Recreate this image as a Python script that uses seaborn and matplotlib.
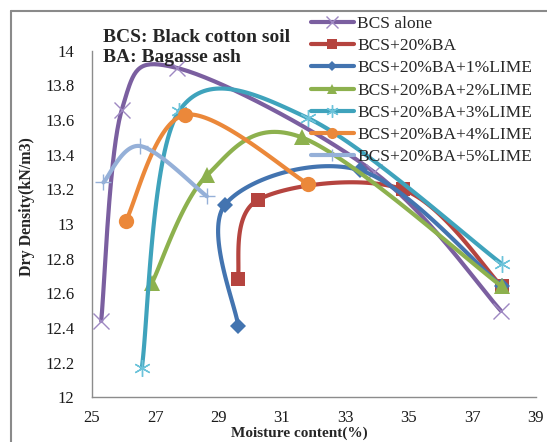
import numpy as np
import pandas as pd
import matplotlib
matplotlib.use("Agg")
import matplotlib.pyplot as plt
from matplotlib.lines import Line2D
import seaborn as sns

# ---- data ----
series_names = ["BCS alone", "BCS+20%BA", "BCS+20%BA+1%LIME", "BCS+20%BA+2%LIME",
                "BCS+20%BA+3%LIME", "BCS+20%BA+4%LIME", "BCS+20%BA+5%LIME"]
bcs_x = [25.3, 25.95, 27.7, 33.9, 37.9]
bcs_y = [12.44, 13.66, 13.90, 13.30, 12.50]
ba_x = [29.6, 30.25, 34.8, 37.93]
ba_y = [12.68, 13.14, 13.20, 12.64]
l1_x = [29.62, 29.2, 33.46, 37.93]
l1_y = [12.41, 13.11, 13.31, 12.64]
l2_x = [26.9, 28.63, 31.62, 37.93]
l2_y = [12.66, 13.28, 13.50, 12.64]
l3_x = [26.58, 27.75, 31.83, 37.93]
l3_y = [12.17, 13.65, 13.61, 12.77]
l4_x = [26.08, 27.94, 31.83]
l4_y = [13.02, 13.63, 13.23]
l5_x = [25.37, 26.52, 28.63]
l5_y = [13.24, 13.45, 13.16]
x_ticks = [25, 27, 29, 31, 33, 35, 37, 39]
y_ticks = [12, 12.2, 12.4, 12.6, 12.8, 13, 13.2, 13.4, 13.6, 13.8, 14]

xs = [bcs_x, ba_x, l1_x, l2_x, l3_x, l4_x, l5_x]
ys = [bcs_y, ba_y, l1_y, l2_y, l3_y, l4_y, l5_y]

line_colors = ["#7B5FA0", "#B5443F", "#4374B0", "#8DB14E", "#3FA3BC", "#EB883A", "#95B0D8"]
marker_face = ["#9E88C2", "#B5443F", "#4374B0", "#8DB14E", "#6CC3DA", "#EB883A", "#95B0D8"]
markers = ["x", "s", "D", "^", (6, 2, 0), "o", "+"]
msizes = [11, 10.5, 8, 11, 12, 11, 12]
medgew = [1.0, 0, 0, 0, 1.0, 0, 1.0]
leg_ms = [8, 7, 5.5, 7.5, 9, 8, 9]

def smooth(x, y, n=40):
    """Excel-like smoothed line (Catmull-Rom Bezier) through the data points."""
    P = np.column_stack([x, y]).astype(float)
    m = len(P)
    out = []
    for i in range(m - 1):
        p0 = P[i - 1] if i > 0 else P[i]
        p1 = P[i]
        p2 = P[i + 1]
        p3 = P[i + 2] if i + 2 < m else P[i + 1]
        b1 = p1 + (p2 - p0) / 6.0
        b2 = p2 - (p3 - p1) / 6.0
        t = np.linspace(0, 1, n)[:, None]
        seg = ((1 - t) ** 3) * p1 + 3 * ((1 - t) ** 2) * t * b1 + 3 * (1 - t) * t ** 2 * b2 + t ** 3 * p2
        out.append(seg if i == 0 else seg[1:])
    c = np.vstack(out)
    return c[:, 0], c[:, 1]

sns.set_theme(style="white")
plt.rcParams["font.family"] = ["Liberation Serif", "DejaVu Serif"]

fig = plt.figure(figsize=(5.47, 4.42), dpi=100)
ax = fig.add_axes([91.7 / 547, 1 - 397.3 / 442, 444 / 547, 346.6 / 442])

for k in range(len(series_names)):
    sx, sy = smooth(xs[k], ys[k])
    df = pd.DataFrame({"x": sx, "y": sy})
    sns.lineplot(data=df, x="x", y="y", sort=False, estimator=None, ax=ax,
                 color=line_colors[k], linewidth=3.0, zorder=2 + k)
    ax.plot(xs[k], ys[k], linestyle="none", marker=markers[k], markersize=msizes[k],
            markerfacecolor=marker_face[k], markeredgecolor=marker_face[k],
            markeredgewidth=medgew[k], zorder=2.5 + k)

ax.set_xlim(25, 39)
ax.set_ylim(12, 14)
ax.set_xticks(x_ticks)
ax.set_xticklabels([str(v) for v in x_ticks])
ax.set_yticks(y_ticks)
ax.set_yticklabels([f"{v:g}" for v in y_ticks])
ax.set_xlabel("")
ax.set_ylabel("")
for s in ["top", "right"]:
    ax.spines[s].set_visible(False)
for s in ["left", "bottom"]:
    ax.spines[s].set_color("#8C8C8C")
    ax.spines[s].set_linewidth(1.0)
ax.tick_params(axis="both", which="major", direction="out", length=4.5, width=1.0,
               color="#8C8C8C", labelsize=12, labelcolor="#1a1a1a")
ax.tick_params(axis="y", pad=8)
ax.tick_params(axis="x", pad=5)

fig.text(299.5 / 547, 1 - 433.5 / 442, "Moisture content(%)", ha="center", va="center",
         fontsize=11, fontweight="bold")
fig.text(27 / 547, 1 - 206.7 / 442, "Dry Density(kN/m3)", ha="center", va="center",
         rotation=90, fontsize=11.5, fontweight="bold")

ax.text(103 / 547, 1 - 37 / 442, "BCS: Black cotton soil", transform=fig.transFigure,
        ha="left", va="center", fontsize=14, fontweight="bold", zorder=20)
ax.text(103 / 547, 1 - 58 / 442, "BA: Bagasse ash", transform=fig.transFigure,
        ha="left", va="center", fontsize=14, fontweight="bold", zorder=20)

handles = []
for k in range(len(series_names)):
    handles.append(Line2D([0], [0], color=line_colors[k], linewidth=3.0, marker=markers[k],
                          markersize=leg_ms[k], markerfacecolor=marker_face[k],
                          markeredgecolor=marker_face[k], markeredgewidth=medgew[k]))
leg = fig.legend(handles, series_names, loc="upper left",
                 bbox_to_anchor=(311 / 547, 1 - 16 / 442), frameon=False,
                 fontsize=12.5, handlelength=2.45, handletextpad=0.2,
                 labelspacing=0.345, borderpad=0, borderaxespad=0)
leg.set_zorder(30)

# outer gray frame of the picture
fig.add_artist(Line2D([11 / 547, 11 / 547], [0, 1 - 11 / 442], transform=fig.transFigure,
                      color="#8A8A8A", linewidth=1.5))
fig.add_artist(Line2D([11 / 547, 1], [1 - 11 / 442, 1 - 11 / 442], transform=fig.transFigure,
                      color="#8A8A8A", linewidth=1.5))

fig.savefig("out.png", dpi=100)
